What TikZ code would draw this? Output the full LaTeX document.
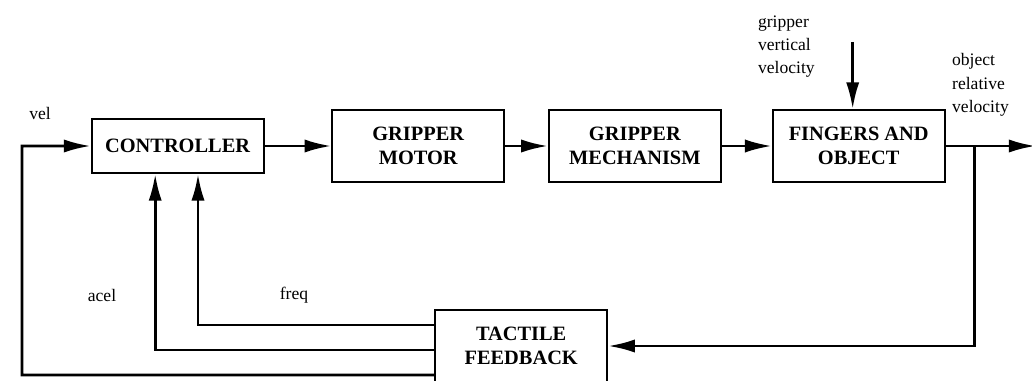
\documentclass[tikz,border=0pt]{standalone}
\usepackage{fontspec}
\setmainfont{Liberation Serif}
\usepackage{tikz}
\usetikzlibrary{positioning,arrows.meta}

\begin{document}
\begin{tikzpicture}[node distance=1.1cm,
  every node/.style={font=\fontsize{12.5}{16.5}\selectfont},
  blk/.style={draw, line width=1.3pt, minimum width=4.3cm, minimum height=1.8cm, align=center,
    font=\fontsize{14.5}{17.5}\selectfont\bfseries},
  arr/.style={line width=2pt, -{Latex[length=6.7mm,width=3.3mm]}}]
\useasboundingbox (0,0) rectangle (25.8,-9.525);
\node[blk, minimum height=1.35cm] (ctrl) at (4.44,-3.65) {CONTROLLER};
\node[blk, right=1.67cm of ctrl] (motor) {GRIPPER\\MOTOR};
\node[blk, right=1.07cm of motor] (mech) {GRIPPER\\MECHANISM};
\node[blk, right=1.25cm of mech] (fing) {FINGERS AND\\OBJECT};
\node[blk] (tact) at (13.03,-8.65) {TACTILE\\FEEDBACK};
\coordinate[right=0.73cm of fing.east] (branch);
\coordinate[right=2.25cm of fing.east] (out);
\coordinate[above=1.68cm of fing.north] (gvtop);
\coordinate (vcorner) at (0.55,-9.375);
% labels
\node (vel) at (1.0,-2.83) {vel};
\node (acel) at (2.55,-7.38) {acel};
\node (freq) at (7.35,-7.38) {freq};
\node[align=left] (gvel) at (19.66,-1.16) {gripper\\vertical\\velocity};
\node[align=left, anchor=west] (orel) at (23.68,-2.12) {object\\relative\\velocity};
% forward path
\draw[arr] (ctrl) -- (motor); \draw[arr] (motor) -- (mech); \draw[arr] (mech) -- (fing);
\draw[arr] ([xshift=-1.5mm]gvtop) -- ([xshift=-1.5mm]fing.north);
\draw[arr] (fing.east) -- (out);
% feedback
\draw[arr] (branch) |- (tact.east);
\draw[arr] ([yshift=-7.25mm]tact.west) -- (vcorner) |- (ctrl.west);
\draw[arr] ([yshift=-1mm]tact.west) -| ([xshift=-5.6mm]ctrl.south);
\draw[arr] ([yshift=5.25mm]tact.west) -| ([xshift=5.1mm]ctrl.south);
\end{tikzpicture}
\end{document}
